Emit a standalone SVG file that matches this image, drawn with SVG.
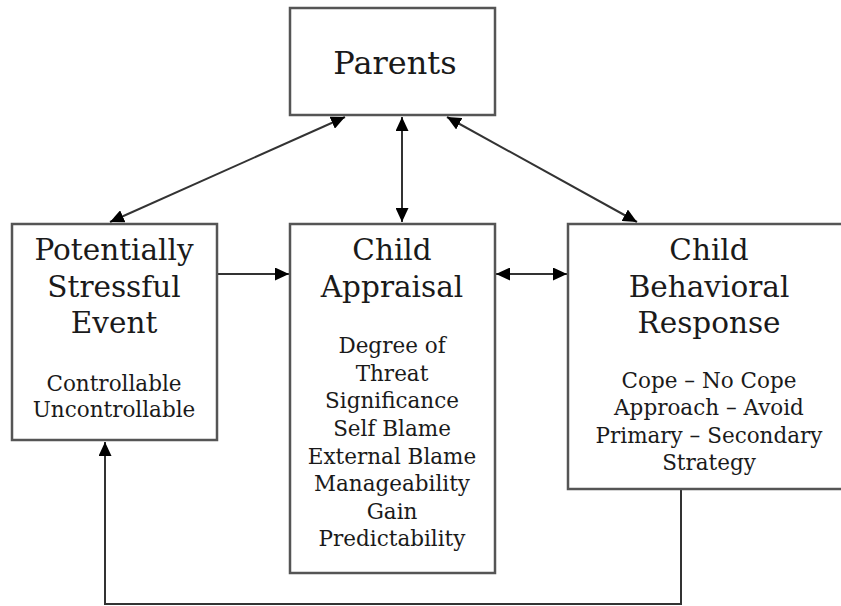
<svg xmlns="http://www.w3.org/2000/svg" width="841" height="606" viewBox="0 0 841 606">
<style>
.box{fill:#fff;stroke:#555;stroke-width:2.5}
.t{font-family:"DejaVu Serif","Liberation Serif",serif;fill:#1a1a1a;text-anchor:middle}
.h{font-size:29.5px}
.s{font-size:21.5px}
.c{fill:none;stroke:#333;stroke-width:2}
</style>
<defs>
<marker id="ah" viewBox="0 0 14 13" refX="14" refY="6.5" markerWidth="14" markerHeight="13" markerUnits="userSpaceOnUse" orient="auto-start-reverse">
<path d="M0,0 L14,6.5 L0,13 z" fill="#000"/>
</marker>
</defs>
<rect width="841" height="606" fill="#fff"/>
<g id="connectors">
<line class="c" x1="345" y1="117" x2="110" y2="222" marker-start="url(#ah)" marker-end="url(#ah)"/>
<line class="c" x1="402" y1="117" x2="402" y2="222" marker-start="url(#ah)" marker-end="url(#ah)"/>
<line class="c" x1="447" y1="117" x2="637" y2="222" marker-start="url(#ah)" marker-end="url(#ah)"/>
<line class="c" x1="218" y1="274" x2="289" y2="274" marker-end="url(#ah)"/>
<line class="c" x1="496" y1="274" x2="567" y2="274" marker-start="url(#ah)" marker-end="url(#ah)"/>
<polyline class="c" points="681,490 681,604 105,604 105,442" marker-end="url(#ah)"/>
</g>
<g id="parents">
<rect class="box" x="290" y="8" width="205" height="107"/>
<text class="t" x="395" y="74" font-size="32">Parents</text>
</g>
<g id="event">
<rect class="box" x="12" y="224" width="205" height="216"/>
<text class="t h" x="114" y="260">Potentially</text>
<text class="t h" x="114" y="297">Stressful</text>
<text class="t h" x="114" y="333">Event</text>
<text class="t s" x="114" y="391">Controllable</text>
<text class="t s" x="114" y="417">Uncontrollable</text>
</g>
<g id="appraisal">
<rect class="box" x="290" y="224" width="205" height="349"/>
<text class="t h" x="392" y="260">Child</text>
<text class="t h" x="392" y="297">Appraisal</text>
<text class="t s" x="392" y="353">Degree of</text>
<text class="t s" x="392" y="381">Threat</text>
<text class="t s" x="392" y="408">Significance</text>
<text class="t s" x="392" y="436">Self Blame</text>
<text class="t s" x="392" y="464">External Blame</text>
<text class="t s" x="392" y="491">Manageability</text>
<text class="t s" x="392" y="519">Gain</text>
<text class="t s" x="392" y="546">Predictability</text>
</g>
<g id="response">
<rect class="box" x="568" y="224" width="284" height="265"/>
<text class="t h" x="709" y="260">Child</text>
<text class="t h" x="709" y="297">Behavioral</text>
<text class="t h" x="709" y="333">Response</text>
<text class="t s" x="709" y="388">Cope – No Cope</text>
<text class="t s" x="709" y="415">Approach – Avoid</text>
<text class="t s" x="709" y="443">Primary – Secondary</text>
<text class="t s" x="709" y="470">Strategy</text>
</g>
</svg>
